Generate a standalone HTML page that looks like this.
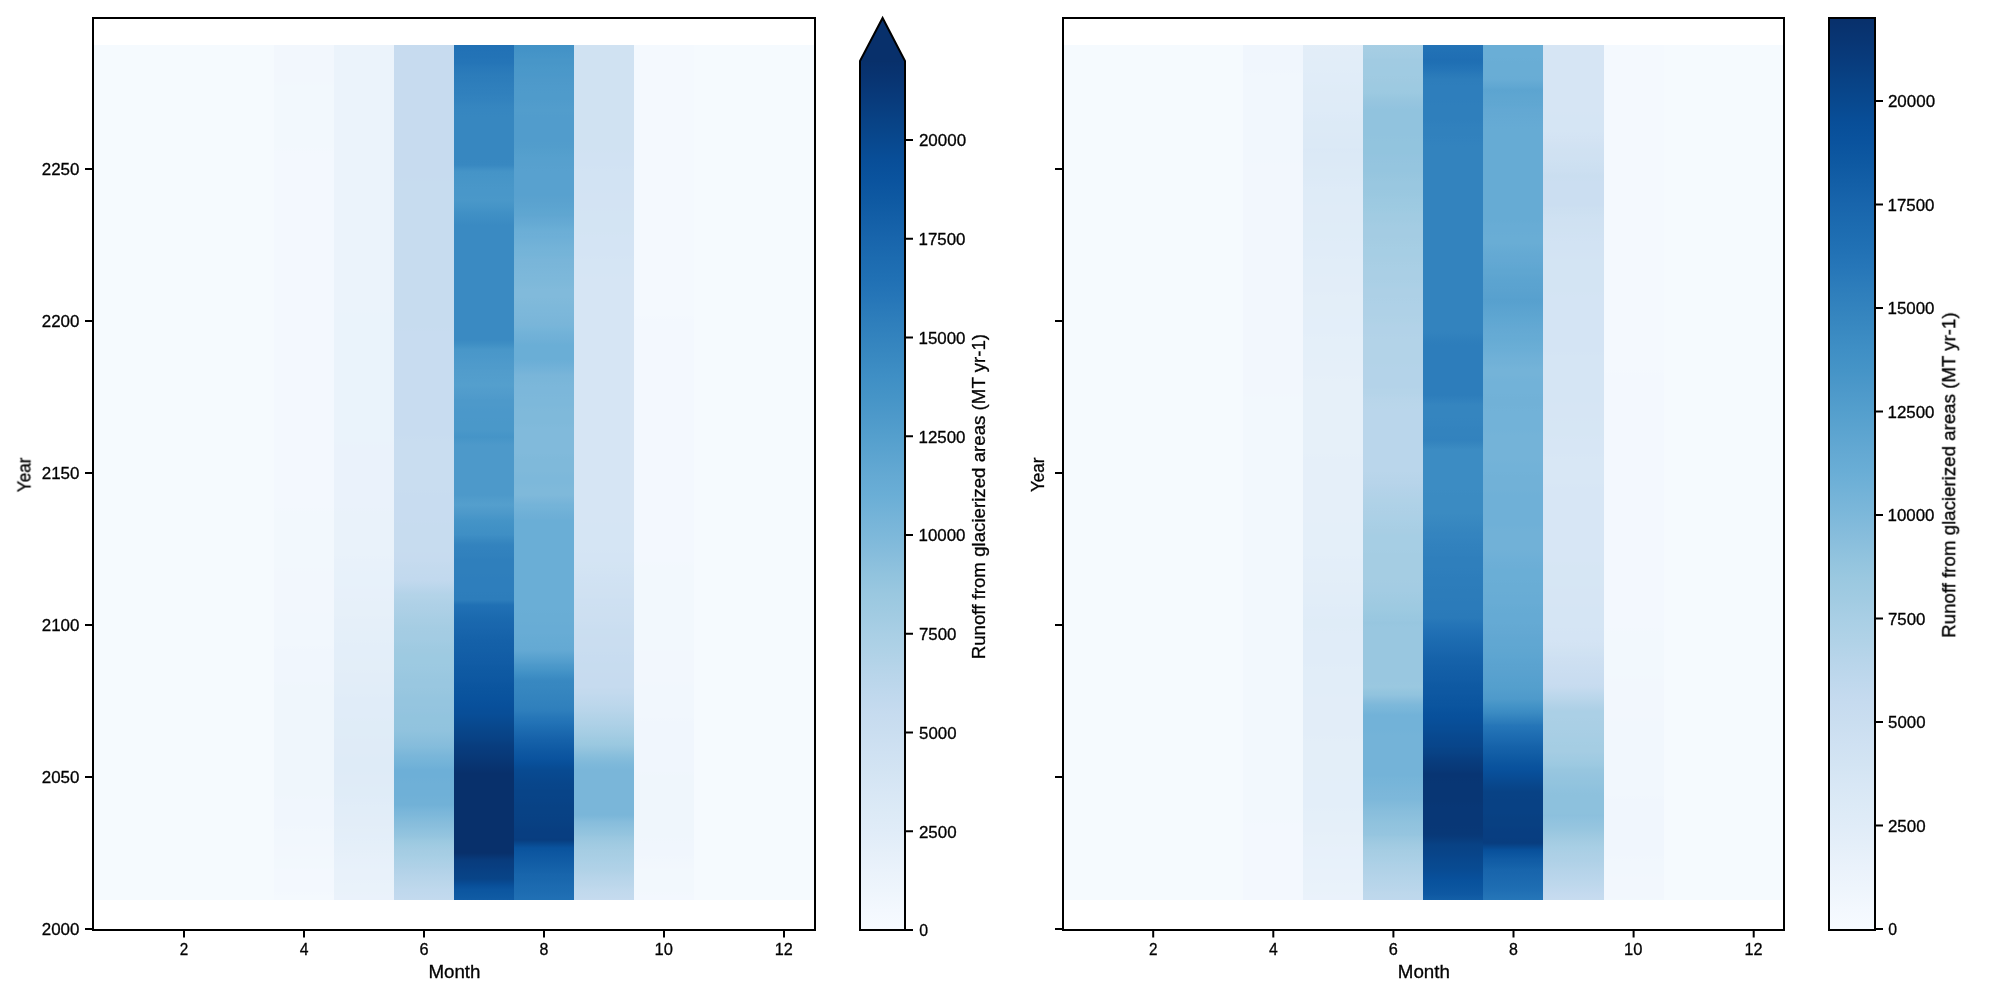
<!DOCTYPE html>
<html><head><meta charset="utf-8"><title>Runoff</title>
<style>html,body{margin:0;padding:0;background:#fff;overflow:hidden}svg{display:block}text{font-family:"Liberation Sans",sans-serif;fill:#000;stroke:#000;stroke-width:0.3px}.t{opacity:0.995}</style>
</head><body>
<svg width="2000" height="1000" viewBox="0 0 2000 1000" >
<defs><linearGradient id="L4" x1="0" y1="0" x2="0" y2="1"><stop offset="0.0000" stop-color="#f2f7fd"/><stop offset="0.0421" stop-color="#f2f7fd"/><stop offset="0.0491" stop-color="#f2f8fd"/><stop offset="0.1193" stop-color="#f2f8fd"/><stop offset="0.1263" stop-color="#f3f8fe"/><stop offset="0.5404" stop-color="#f3f8fe"/><stop offset="0.5474" stop-color="#f2f8fd"/><stop offset="0.6105" stop-color="#f2f8fd"/><stop offset="0.6175" stop-color="#f2f7fd"/><stop offset="0.6596" stop-color="#f2f7fd"/><stop offset="0.6667" stop-color="#f1f7fd"/><stop offset="0.7018" stop-color="#f1f7fd"/><stop offset="0.7088" stop-color="#f0f6fd"/><stop offset="0.7439" stop-color="#f0f6fd"/><stop offset="0.7509" stop-color="#eff6fc"/><stop offset="0.8772" stop-color="#eff6fc"/><stop offset="0.8842" stop-color="#f0f6fd"/><stop offset="0.9123" stop-color="#f0f6fd"/><stop offset="0.9193" stop-color="#f1f7fd"/><stop offset="0.9333" stop-color="#f1f7fd"/><stop offset="0.9404" stop-color="#f2f7fd"/><stop offset="0.9474" stop-color="#f2f7fd"/><stop offset="0.9544" stop-color="#f2f8fd"/><stop offset="0.9614" stop-color="#f2f8fd"/><stop offset="0.9649" stop-color="#f3f8fe"/><stop offset="0.9895" stop-color="#f3f8fe"/><stop offset="0.9965" stop-color="#f4f9fe"/><stop offset="1.0000" stop-color="#f4f9fe"/></linearGradient>
<linearGradient id="L5" x1="0" y1="0" x2="0" y2="1"><stop offset="0.0000" stop-color="#ebf3fb"/><stop offset="0.3088" stop-color="#ebf3fb"/><stop offset="0.3158" stop-color="#eaf3fb"/><stop offset="0.4632" stop-color="#eaf3fb"/><stop offset="0.4702" stop-color="#eaf2fb"/><stop offset="0.5404" stop-color="#eaf2fb"/><stop offset="0.5474" stop-color="#e9f2fa"/><stop offset="0.5965" stop-color="#e9f2fa"/><stop offset="0.6035" stop-color="#e8f1fa"/><stop offset="0.6105" stop-color="#e8f1fa"/><stop offset="0.6175" stop-color="#e7f1fa"/><stop offset="0.6316" stop-color="#e7f1fa"/><stop offset="0.6386" stop-color="#e7f0fa"/><stop offset="0.6456" stop-color="#e7f0fa"/><stop offset="0.6526" stop-color="#e6f0f9"/><stop offset="0.6667" stop-color="#e6f0f9"/><stop offset="0.6725" stop-color="#e5eff9"/><stop offset="0.6807" stop-color="#e5eff9"/><stop offset="0.6877" stop-color="#e4eff9"/><stop offset="0.6947" stop-color="#e4eff9"/><stop offset="0.7018" stop-color="#e3eef9"/><stop offset="0.7158" stop-color="#e3eef9"/><stop offset="0.7228" stop-color="#e3eef8"/><stop offset="0.7298" stop-color="#e3eef8"/><stop offset="0.7368" stop-color="#e2edf8"/><stop offset="0.7439" stop-color="#e2edf8"/><stop offset="0.7509" stop-color="#e1edf8"/><stop offset="0.7579" stop-color="#e1edf8"/><stop offset="0.7649" stop-color="#e0ecf8"/><stop offset="0.7860" stop-color="#e0ecf8"/><stop offset="0.7930" stop-color="#dfecf7"/><stop offset="0.8070" stop-color="#dfecf7"/><stop offset="0.8140" stop-color="#dfebf7"/><stop offset="0.8281" stop-color="#dfebf7"/><stop offset="0.8351" stop-color="#deebf7"/><stop offset="0.8491" stop-color="#deebf7"/><stop offset="0.8561" stop-color="#dfebf7"/><stop offset="0.8632" stop-color="#dfebf7"/><stop offset="0.8702" stop-color="#dfecf7"/><stop offset="0.8772" stop-color="#dfecf7"/><stop offset="0.8842" stop-color="#e0ecf8"/><stop offset="0.8912" stop-color="#e1edf8"/><stop offset="0.8982" stop-color="#e1edf8"/><stop offset="0.9053" stop-color="#e2edf8"/><stop offset="0.9123" stop-color="#e2edf8"/><stop offset="0.9181" stop-color="#e3eef8"/><stop offset="0.9193" stop-color="#e3eef8"/><stop offset="0.9263" stop-color="#e3eef9"/><stop offset="0.9333" stop-color="#e4eff9"/><stop offset="0.9404" stop-color="#e5eff9"/><stop offset="0.9474" stop-color="#e6f0f9"/><stop offset="0.9544" stop-color="#e7f0fa"/><stop offset="0.9614" stop-color="#e7f1fa"/><stop offset="0.9649" stop-color="#e8f1fa"/><stop offset="0.9754" stop-color="#e8f1fa"/><stop offset="0.9825" stop-color="#e9f2fa"/><stop offset="0.9895" stop-color="#e9f2fa"/><stop offset="0.9965" stop-color="#eaf2fb"/><stop offset="1.0000" stop-color="#eaf2fb"/></linearGradient>
<linearGradient id="L6" x1="0" y1="0" x2="0" y2="1"><stop offset="0.0000" stop-color="#c6dbef"/><stop offset="0.0070" stop-color="#c7dbef"/><stop offset="0.1544" stop-color="#c7dbef"/><stop offset="0.1614" stop-color="#c7dcef"/><stop offset="0.3298" stop-color="#c7dcef"/><stop offset="0.3368" stop-color="#c8dcf0"/><stop offset="0.4561" stop-color="#c8dcf0"/><stop offset="0.4632" stop-color="#c9ddf0"/><stop offset="0.5193" stop-color="#c9ddf0"/><stop offset="0.5263" stop-color="#c8dcf0"/><stop offset="0.5544" stop-color="#c8dcf0"/><stop offset="0.5614" stop-color="#c7dcef"/><stop offset="0.5906" stop-color="#c7dcef"/><stop offset="0.5965" stop-color="#c7dbef"/><stop offset="0.6035" stop-color="#c6dbef"/><stop offset="0.6105" stop-color="#c4daee"/><stop offset="0.6175" stop-color="#c3daee"/><stop offset="0.6246" stop-color="#c2d9ee"/><stop offset="0.6257" stop-color="#c2d9ee"/><stop offset="0.6316" stop-color="#bdd7ec"/><stop offset="0.6386" stop-color="#b7d4ea"/><stop offset="0.6433" stop-color="#b3d3e8"/><stop offset="0.6456" stop-color="#b3d3e8"/><stop offset="0.6526" stop-color="#afd1e7"/><stop offset="0.6596" stop-color="#add0e6"/><stop offset="0.6667" stop-color="#aacfe5"/><stop offset="0.6725" stop-color="#a8cee4"/><stop offset="0.6737" stop-color="#a8cee4"/><stop offset="0.6807" stop-color="#a5cde3"/><stop offset="0.6877" stop-color="#a4cce3"/><stop offset="0.6947" stop-color="#a3cce3"/><stop offset="0.7018" stop-color="#a0cbe2"/><stop offset="0.7076" stop-color="#9fcae1"/><stop offset="0.7088" stop-color="#9fcae1"/><stop offset="0.7158" stop-color="#9dcae1"/><stop offset="0.7228" stop-color="#9dcae1"/><stop offset="0.7298" stop-color="#9cc9e1"/><stop offset="0.7368" stop-color="#9ac8e0"/><stop offset="0.7439" stop-color="#99c7e0"/><stop offset="0.7509" stop-color="#99c7e0"/><stop offset="0.7579" stop-color="#97c6df"/><stop offset="0.7649" stop-color="#95c5df"/><stop offset="0.7719" stop-color="#95c5df"/><stop offset="0.7789" stop-color="#94c4df"/><stop offset="0.7860" stop-color="#92c4de"/><stop offset="0.7930" stop-color="#92c4de"/><stop offset="0.8000" stop-color="#91c3de"/><stop offset="0.8012" stop-color="#91c3de"/><stop offset="0.8070" stop-color="#8dc1dd"/><stop offset="0.8140" stop-color="#89bedc"/><stop offset="0.8175" stop-color="#87bddc"/><stop offset="0.8211" stop-color="#84bcdb"/><stop offset="0.8281" stop-color="#7db8da"/><stop offset="0.8316" stop-color="#7ab6d9"/><stop offset="0.8351" stop-color="#77b5d9"/><stop offset="0.8421" stop-color="#72b2d8"/><stop offset="0.8480" stop-color="#6dafd7"/><stop offset="0.8561" stop-color="#6dafd7"/><stop offset="0.8632" stop-color="#6fb0d7"/><stop offset="0.8772" stop-color="#6fb0d7"/><stop offset="0.8842" stop-color="#71b1d7"/><stop offset="0.8889" stop-color="#71b1d7"/><stop offset="0.8912" stop-color="#74b3d8"/><stop offset="0.8982" stop-color="#7cb7da"/><stop offset="0.9006" stop-color="#7db8da"/><stop offset="0.9053" stop-color="#82bbdb"/><stop offset="0.9123" stop-color="#89bedc"/><stop offset="0.9146" stop-color="#8abfdd"/><stop offset="0.9193" stop-color="#8fc2de"/><stop offset="0.9263" stop-color="#95c5df"/><stop offset="0.9298" stop-color="#9ac8e0"/><stop offset="0.9333" stop-color="#9dcae1"/><stop offset="0.9404" stop-color="#a3cce3"/><stop offset="0.9415" stop-color="#a4cce3"/><stop offset="0.9474" stop-color="#a6cee4"/><stop offset="0.9544" stop-color="#abd0e6"/><stop offset="0.9614" stop-color="#afd1e7"/><stop offset="0.9649" stop-color="#b2d2e8"/><stop offset="0.9684" stop-color="#b4d3e9"/><stop offset="0.9754" stop-color="#b8d5ea"/><stop offset="0.9825" stop-color="#bcd7eb"/><stop offset="0.9883" stop-color="#bfd8ed"/><stop offset="0.9895" stop-color="#bfd8ed"/><stop offset="0.9965" stop-color="#c2d9ee"/><stop offset="1.0000" stop-color="#c3daee"/></linearGradient>
<linearGradient id="L7" x1="0" y1="0" x2="0" y2="1"><stop offset="0.0000" stop-color="#2070b4"/><stop offset="0.0070" stop-color="#2272b6"/><stop offset="0.0140" stop-color="#2373b6"/><stop offset="0.0175" stop-color="#2474b7"/><stop offset="0.0211" stop-color="#2575b7"/><stop offset="0.0281" stop-color="#2979b9"/><stop offset="0.0351" stop-color="#2c7cba"/><stop offset="0.0421" stop-color="#2d7dbb"/><stop offset="0.0491" stop-color="#2f7fbc"/><stop offset="0.0561" stop-color="#3080bd"/><stop offset="0.0585" stop-color="#3181bd"/><stop offset="0.0632" stop-color="#3282be"/><stop offset="0.0702" stop-color="#3585bf"/><stop offset="0.0760" stop-color="#3686c0"/><stop offset="0.0772" stop-color="#3686c0"/><stop offset="0.0842" stop-color="#3787c0"/><stop offset="0.1333" stop-color="#3787c0"/><stop offset="0.1404" stop-color="#3888c1"/><stop offset="0.1474" stop-color="#4493c7"/><stop offset="0.1485" stop-color="#4594c7"/><stop offset="0.1544" stop-color="#4695c8"/><stop offset="0.1614" stop-color="#4896c8"/><stop offset="0.1684" stop-color="#4997c9"/><stop offset="0.1754" stop-color="#4997c9"/><stop offset="0.1813" stop-color="#4a98c9"/><stop offset="0.1825" stop-color="#4997c9"/><stop offset="0.1895" stop-color="#4594c7"/><stop offset="0.1953" stop-color="#4191c6"/><stop offset="0.1965" stop-color="#4090c5"/><stop offset="0.2035" stop-color="#3d8dc4"/><stop offset="0.2105" stop-color="#3a8ac2"/><stop offset="0.3450" stop-color="#3a8ac2"/><stop offset="0.3509" stop-color="#4090c5"/><stop offset="0.3567" stop-color="#4997c9"/><stop offset="0.3579" stop-color="#4997c9"/><stop offset="0.3649" stop-color="#4b98ca"/><stop offset="0.3719" stop-color="#4e9acb"/><stop offset="0.3789" stop-color="#4f9bcb"/><stop offset="0.3801" stop-color="#519ccc"/><stop offset="0.3860" stop-color="#529dcc"/><stop offset="0.3930" stop-color="#539ecd"/><stop offset="0.3977" stop-color="#549fcd"/><stop offset="0.4000" stop-color="#539ecd"/><stop offset="0.4070" stop-color="#519ccc"/><stop offset="0.4140" stop-color="#4e9acb"/><stop offset="0.4152" stop-color="#4d99ca"/><stop offset="0.4211" stop-color="#4d99ca"/><stop offset="0.4281" stop-color="#4b98ca"/><stop offset="0.4351" stop-color="#4b98ca"/><stop offset="0.4421" stop-color="#4a98c9"/><stop offset="0.4503" stop-color="#4a98c9"/><stop offset="0.4561" stop-color="#4695c8"/><stop offset="0.4585" stop-color="#4594c7"/><stop offset="0.4632" stop-color="#4997c9"/><stop offset="0.4678" stop-color="#4d99ca"/><stop offset="0.5263" stop-color="#4d99ca"/><stop offset="0.5333" stop-color="#529dcc"/><stop offset="0.5380" stop-color="#549fcd"/><stop offset="0.5404" stop-color="#529dcc"/><stop offset="0.5474" stop-color="#4d99ca"/><stop offset="0.5544" stop-color="#4695c8"/><stop offset="0.5556" stop-color="#4594c7"/><stop offset="0.5614" stop-color="#4292c6"/><stop offset="0.5684" stop-color="#4090c5"/><stop offset="0.5731" stop-color="#3f8fc5"/><stop offset="0.5754" stop-color="#3c8cc3"/><stop offset="0.5825" stop-color="#3585bf"/><stop offset="0.5848" stop-color="#3383be"/><stop offset="0.5895" stop-color="#3282be"/><stop offset="0.5965" stop-color="#3181bd"/><stop offset="0.6023" stop-color="#2f7fbc"/><stop offset="0.6175" stop-color="#2f7fbc"/><stop offset="0.6246" stop-color="#2e7ebc"/><stop offset="0.6386" stop-color="#2e7ebc"/><stop offset="0.6456" stop-color="#2d7dbb"/><stop offset="0.6491" stop-color="#2d7dbb"/><stop offset="0.6526" stop-color="#2575b7"/><stop offset="0.6550" stop-color="#2070b4"/><stop offset="0.6596" stop-color="#1f6eb3"/><stop offset="0.6667" stop-color="#1c6bb0"/><stop offset="0.6737" stop-color="#1a68ae"/><stop offset="0.6807" stop-color="#1966ad"/><stop offset="0.6877" stop-color="#1764ab"/><stop offset="0.6947" stop-color="#1562a9"/><stop offset="0.6959" stop-color="#1561a9"/><stop offset="0.7018" stop-color="#1460a8"/><stop offset="0.7088" stop-color="#135fa7"/><stop offset="0.7158" stop-color="#125da6"/><stop offset="0.7228" stop-color="#115ca5"/><stop offset="0.7298" stop-color="#0f5aa3"/><stop offset="0.7357" stop-color="#0e59a2"/><stop offset="0.7368" stop-color="#0e59a2"/><stop offset="0.7439" stop-color="#0d57a1"/><stop offset="0.7509" stop-color="#0b559f"/><stop offset="0.7579" stop-color="#0a549e"/><stop offset="0.7649" stop-color="#09529d"/><stop offset="0.7719" stop-color="#08509b"/><stop offset="0.7789" stop-color="#084e98"/><stop offset="0.7813" stop-color="#084e98"/><stop offset="0.7860" stop-color="#084c95"/><stop offset="0.7930" stop-color="#084990"/><stop offset="0.8000" stop-color="#08468b"/><stop offset="0.8070" stop-color="#084387"/><stop offset="0.8129" stop-color="#084184"/><stop offset="0.8140" stop-color="#084082"/><stop offset="0.8211" stop-color="#083c7d"/><stop offset="0.8281" stop-color="#083a7a"/><stop offset="0.8351" stop-color="#083776"/><stop offset="0.8421" stop-color="#083471"/><stop offset="0.8491" stop-color="#08316d"/><stop offset="0.8526" stop-color="#08306b"/><stop offset="0.9450" stop-color="#08306b"/><stop offset="0.9474" stop-color="#083370"/><stop offset="0.9532" stop-color="#083b7c"/><stop offset="0.9544" stop-color="#083c7d"/><stop offset="0.9614" stop-color="#083e81"/><stop offset="0.9684" stop-color="#084285"/><stop offset="0.9754" stop-color="#084488"/><stop offset="0.9825" stop-color="#084e98"/><stop offset="0.9883" stop-color="#0c56a0"/><stop offset="0.9895" stop-color="#0c56a0"/><stop offset="0.9965" stop-color="#0f5aa3"/><stop offset="1.0000" stop-color="#115ca5"/></linearGradient>
<linearGradient id="L8" x1="0" y1="0" x2="0" y2="1"><stop offset="0.0000" stop-color="#4292c6"/><stop offset="0.0070" stop-color="#4493c7"/><stop offset="0.0140" stop-color="#4695c8"/><stop offset="0.0175" stop-color="#4896c8"/><stop offset="0.0211" stop-color="#4896c8"/><stop offset="0.0281" stop-color="#4a98c9"/><stop offset="0.0351" stop-color="#4b98ca"/><stop offset="0.0409" stop-color="#4d99ca"/><stop offset="0.0421" stop-color="#4d99ca"/><stop offset="0.0491" stop-color="#4e9acb"/><stop offset="0.0561" stop-color="#4f9bcb"/><stop offset="0.0632" stop-color="#4f9bcb"/><stop offset="0.0702" stop-color="#519ccc"/><stop offset="0.0760" stop-color="#529dcc"/><stop offset="0.0772" stop-color="#529dcc"/><stop offset="0.0842" stop-color="#519ccc"/><stop offset="0.1123" stop-color="#519ccc"/><stop offset="0.1193" stop-color="#529dcc"/><stop offset="0.1263" stop-color="#549fcd"/><stop offset="0.1333" stop-color="#56a0ce"/><stop offset="0.1404" stop-color="#57a0ce"/><stop offset="0.1474" stop-color="#58a1cf"/><stop offset="0.1754" stop-color="#58a1cf"/><stop offset="0.1813" stop-color="#5aa2cf"/><stop offset="0.1825" stop-color="#5aa2cf"/><stop offset="0.1895" stop-color="#5ca4d0"/><stop offset="0.1965" stop-color="#5fa6d1"/><stop offset="0.1988" stop-color="#5fa6d1"/><stop offset="0.2035" stop-color="#63a8d3"/><stop offset="0.2105" stop-color="#66abd4"/><stop offset="0.2164" stop-color="#6aaed6"/><stop offset="0.2175" stop-color="#6caed6"/><stop offset="0.2246" stop-color="#6dafd7"/><stop offset="0.2316" stop-color="#71b1d7"/><stop offset="0.2386" stop-color="#74b3d8"/><stop offset="0.2456" stop-color="#75b4d8"/><stop offset="0.2515" stop-color="#79b5d9"/><stop offset="0.2526" stop-color="#79b5d9"/><stop offset="0.2596" stop-color="#7ab6d9"/><stop offset="0.2667" stop-color="#7cb7da"/><stop offset="0.2737" stop-color="#7db8da"/><stop offset="0.2807" stop-color="#7fb9da"/><stop offset="0.2865" stop-color="#81badb"/><stop offset="0.2947" stop-color="#81badb"/><stop offset="0.3018" stop-color="#7fb9da"/><stop offset="0.3088" stop-color="#7db8da"/><stop offset="0.3099" stop-color="#7db8da"/><stop offset="0.3158" stop-color="#7cb7da"/><stop offset="0.3228" stop-color="#7ab6d9"/><stop offset="0.3275" stop-color="#79b5d9"/><stop offset="0.3298" stop-color="#77b5d9"/><stop offset="0.3368" stop-color="#72b2d8"/><stop offset="0.3439" stop-color="#6fb0d7"/><stop offset="0.3509" stop-color="#6aaed6"/><stop offset="0.3684" stop-color="#6aaed6"/><stop offset="0.3719" stop-color="#6dafd7"/><stop offset="0.3789" stop-color="#72b2d8"/><stop offset="0.3860" stop-color="#79b5d9"/><stop offset="0.3930" stop-color="#7ab6d9"/><stop offset="0.4000" stop-color="#7cb7da"/><stop offset="0.4070" stop-color="#7cb7da"/><stop offset="0.4140" stop-color="#7db8da"/><stop offset="0.4211" stop-color="#7db8da"/><stop offset="0.4281" stop-color="#7fb9da"/><stop offset="0.4421" stop-color="#7fb9da"/><stop offset="0.4491" stop-color="#81badb"/><stop offset="0.4772" stop-color="#81badb"/><stop offset="0.4842" stop-color="#7fb9da"/><stop offset="0.4982" stop-color="#7fb9da"/><stop offset="0.5053" stop-color="#7db8da"/><stop offset="0.5123" stop-color="#7db8da"/><stop offset="0.5193" stop-color="#7fb9da"/><stop offset="0.5263" stop-color="#7fb9da"/><stop offset="0.5333" stop-color="#79b5d9"/><stop offset="0.5380" stop-color="#74b3d8"/><stop offset="0.5404" stop-color="#74b3d8"/><stop offset="0.5474" stop-color="#6fb0d7"/><stop offset="0.5544" stop-color="#6caed6"/><stop offset="0.5556" stop-color="#6aaed6"/><stop offset="0.6596" stop-color="#6aaed6"/><stop offset="0.6667" stop-color="#69add5"/><stop offset="0.6737" stop-color="#69add5"/><stop offset="0.6807" stop-color="#68acd5"/><stop offset="0.6877" stop-color="#68acd5"/><stop offset="0.6947" stop-color="#66abd4"/><stop offset="0.6959" stop-color="#66abd4"/><stop offset="0.7018" stop-color="#65aad4"/><stop offset="0.7076" stop-color="#64a9d3"/><stop offset="0.7088" stop-color="#63a8d3"/><stop offset="0.7158" stop-color="#5aa2cf"/><stop offset="0.7228" stop-color="#519ccc"/><stop offset="0.7251" stop-color="#4d99ca"/><stop offset="0.7298" stop-color="#4896c8"/><stop offset="0.7368" stop-color="#3f8fc5"/><stop offset="0.7427" stop-color="#3989c1"/><stop offset="0.7439" stop-color="#3888c1"/><stop offset="0.7509" stop-color="#3787c0"/><stop offset="0.7579" stop-color="#3585bf"/><stop offset="0.7649" stop-color="#3383be"/><stop offset="0.7719" stop-color="#3181bd"/><stop offset="0.7766" stop-color="#2f7fbc"/><stop offset="0.7789" stop-color="#2e7ebc"/><stop offset="0.7860" stop-color="#2777b8"/><stop offset="0.7930" stop-color="#2272b6"/><stop offset="0.7953" stop-color="#2070b4"/><stop offset="0.8000" stop-color="#1d6cb1"/><stop offset="0.8070" stop-color="#1966ad"/><stop offset="0.8129" stop-color="#1561a9"/><stop offset="0.8140" stop-color="#1561a9"/><stop offset="0.8211" stop-color="#115ca5"/><stop offset="0.8281" stop-color="#0d57a1"/><stop offset="0.8351" stop-color="#0a539e"/><stop offset="0.8421" stop-color="#084e98"/><stop offset="0.8480" stop-color="#084a91"/><stop offset="0.8491" stop-color="#084a91"/><stop offset="0.8561" stop-color="#08488e"/><stop offset="0.8632" stop-color="#08468b"/><stop offset="0.8702" stop-color="#08458a"/><stop offset="0.8713" stop-color="#084488"/><stop offset="0.8772" stop-color="#084488"/><stop offset="0.8842" stop-color="#084387"/><stop offset="0.8912" stop-color="#084285"/><stop offset="0.8982" stop-color="#084285"/><stop offset="0.9053" stop-color="#084184"/><stop offset="0.9123" stop-color="#084082"/><stop offset="0.9193" stop-color="#083e81"/><stop offset="0.9263" stop-color="#083e81"/><stop offset="0.9298" stop-color="#083d7f"/><stop offset="0.9333" stop-color="#08468b"/><stop offset="0.9392" stop-color="#0a539e"/><stop offset="0.9404" stop-color="#0a549e"/><stop offset="0.9474" stop-color="#0e58a2"/><stop offset="0.9544" stop-color="#115ca5"/><stop offset="0.9614" stop-color="#1460a8"/><stop offset="0.9684" stop-color="#1764ab"/><stop offset="0.9696" stop-color="#1865ac"/><stop offset="0.9754" stop-color="#1967ad"/><stop offset="0.9825" stop-color="#1c6ab0"/><stop offset="0.9895" stop-color="#1d6cb1"/><stop offset="0.9965" stop-color="#206fb4"/><stop offset="1.0000" stop-color="#2070b4"/></linearGradient>
<linearGradient id="L9" x1="0" y1="0" x2="0" y2="1"><stop offset="0.0000" stop-color="#d0e2f2"/><stop offset="0.1228" stop-color="#d0e2f2"/><stop offset="0.1263" stop-color="#d1e2f3"/><stop offset="0.1404" stop-color="#d1e2f3"/><stop offset="0.1474" stop-color="#d2e3f3"/><stop offset="0.1684" stop-color="#d2e3f3"/><stop offset="0.1754" stop-color="#d3e3f3"/><stop offset="0.1895" stop-color="#d3e3f3"/><stop offset="0.1965" stop-color="#d3e4f3"/><stop offset="0.2175" stop-color="#d3e4f3"/><stop offset="0.2246" stop-color="#d4e4f4"/><stop offset="0.2456" stop-color="#d4e4f4"/><stop offset="0.2526" stop-color="#d5e5f4"/><stop offset="0.2667" stop-color="#d5e5f4"/><stop offset="0.2737" stop-color="#d6e5f4"/><stop offset="0.5544" stop-color="#d6e5f4"/><stop offset="0.5614" stop-color="#d5e5f4"/><stop offset="0.5895" stop-color="#d5e5f4"/><stop offset="0.5965" stop-color="#d4e4f4"/><stop offset="0.6035" stop-color="#d4e4f4"/><stop offset="0.6105" stop-color="#d3e4f3"/><stop offset="0.6175" stop-color="#d2e3f3"/><stop offset="0.6246" stop-color="#d1e2f3"/><stop offset="0.6316" stop-color="#d0e2f2"/><stop offset="0.6386" stop-color="#d0e1f2"/><stop offset="0.6456" stop-color="#cfe1f2"/><stop offset="0.6491" stop-color="#cee0f2"/><stop offset="0.6526" stop-color="#cee0f2"/><stop offset="0.6596" stop-color="#cde0f1"/><stop offset="0.6667" stop-color="#cddff1"/><stop offset="0.6737" stop-color="#ccdff1"/><stop offset="0.6807" stop-color="#cbdef1"/><stop offset="0.6842" stop-color="#cadef0"/><stop offset="0.6877" stop-color="#cadef0"/><stop offset="0.6947" stop-color="#caddf0"/><stop offset="0.7018" stop-color="#caddf0"/><stop offset="0.7088" stop-color="#c9ddf0"/><stop offset="0.7158" stop-color="#c8dcf0"/><stop offset="0.7193" stop-color="#c8dcf0"/><stop offset="0.7228" stop-color="#c7dcef"/><stop offset="0.7298" stop-color="#c7dcef"/><stop offset="0.7368" stop-color="#c7dbef"/><stop offset="0.7439" stop-color="#c6dbef"/><stop offset="0.7509" stop-color="#c6dbef"/><stop offset="0.7544" stop-color="#c4daee"/><stop offset="0.7579" stop-color="#c3daee"/><stop offset="0.7649" stop-color="#bfd8ed"/><stop offset="0.7719" stop-color="#bcd7eb"/><stop offset="0.7743" stop-color="#bad6eb"/><stop offset="0.7789" stop-color="#b8d5ea"/><stop offset="0.7860" stop-color="#b3d3e8"/><stop offset="0.7930" stop-color="#aed1e7"/><stop offset="0.7953" stop-color="#add0e6"/><stop offset="0.8000" stop-color="#a9cfe5"/><stop offset="0.8070" stop-color="#a4cce3"/><stop offset="0.8140" stop-color="#9dcae1"/><stop offset="0.8187" stop-color="#9ac8e0"/><stop offset="0.8211" stop-color="#97c6df"/><stop offset="0.8281" stop-color="#8dc1dd"/><stop offset="0.8351" stop-color="#84bcdb"/><stop offset="0.8421" stop-color="#7db8da"/><stop offset="0.8480" stop-color="#7ab6d9"/><stop offset="0.9006" stop-color="#7ab6d9"/><stop offset="0.9053" stop-color="#81badb"/><stop offset="0.9088" stop-color="#87bddc"/><stop offset="0.9123" stop-color="#8abfdd"/><stop offset="0.9193" stop-color="#91c3de"/><stop offset="0.9240" stop-color="#95c5df"/><stop offset="0.9263" stop-color="#99c7e0"/><stop offset="0.9333" stop-color="#9fcae1"/><stop offset="0.9404" stop-color="#a4cce3"/><stop offset="0.9415" stop-color="#a5cde3"/><stop offset="0.9474" stop-color="#a8cee4"/><stop offset="0.9544" stop-color="#abd0e6"/><stop offset="0.9614" stop-color="#afd1e7"/><stop offset="0.9649" stop-color="#b0d2e7"/><stop offset="0.9684" stop-color="#b3d3e8"/><stop offset="0.9754" stop-color="#b8d5ea"/><stop offset="0.9825" stop-color="#bcd7eb"/><stop offset="0.9895" stop-color="#c1d9ed"/><stop offset="0.9965" stop-color="#c4daee"/><stop offset="1.0000" stop-color="#c6dbef"/></linearGradient>
<linearGradient id="L10" x1="0" y1="0" x2="0" y2="1"><stop offset="0.0000" stop-color="#f4f9fe"/><stop offset="0.3158" stop-color="#f4f9fe"/><stop offset="0.3228" stop-color="#f3f8fe"/><stop offset="0.6035" stop-color="#f3f8fe"/><stop offset="0.6105" stop-color="#f2f8fd"/><stop offset="0.7076" stop-color="#f2f8fd"/><stop offset="0.7088" stop-color="#f2f7fd"/><stop offset="0.7439" stop-color="#f2f7fd"/><stop offset="0.7509" stop-color="#f1f7fd"/><stop offset="0.7860" stop-color="#f1f7fd"/><stop offset="0.7930" stop-color="#f0f6fd"/><stop offset="0.8491" stop-color="#f0f6fd"/><stop offset="0.8561" stop-color="#eff6fc"/><stop offset="0.9263" stop-color="#eff6fc"/><stop offset="0.9333" stop-color="#f0f6fd"/><stop offset="0.9474" stop-color="#f0f6fd"/><stop offset="0.9544" stop-color="#f1f7fd"/><stop offset="0.9614" stop-color="#f2f7fd"/><stop offset="0.9649" stop-color="#f2f8fd"/><stop offset="0.9895" stop-color="#f2f8fd"/><stop offset="0.9965" stop-color="#f3f8fe"/><stop offset="1.0000" stop-color="#f3f8fe"/></linearGradient>
<linearGradient id="R4" x1="0" y1="0" x2="0" y2="1"><stop offset="0.0000" stop-color="#f0f6fd"/><stop offset="0.0281" stop-color="#f0f6fd"/><stop offset="0.0351" stop-color="#f1f7fd"/><stop offset="0.1333" stop-color="#f1f7fd"/><stop offset="0.1404" stop-color="#f2f7fd"/><stop offset="0.4070" stop-color="#f2f7fd"/><stop offset="0.4140" stop-color="#f2f8fd"/><stop offset="0.9053" stop-color="#f2f8fd"/><stop offset="0.9123" stop-color="#f3f8fe"/><stop offset="1.0000" stop-color="#f3f8fe"/></linearGradient>
<linearGradient id="R5" x1="0" y1="0" x2="0" y2="1"><stop offset="0.0000" stop-color="#e3eef8"/><stop offset="0.0070" stop-color="#e2edf8"/><stop offset="0.0140" stop-color="#e2edf8"/><stop offset="0.0211" stop-color="#e1edf8"/><stop offset="0.0281" stop-color="#e1edf8"/><stop offset="0.0351" stop-color="#e0ecf8"/><stop offset="0.0421" stop-color="#e0ecf8"/><stop offset="0.0491" stop-color="#dfecf7"/><stop offset="0.0561" stop-color="#dfebf7"/><stop offset="0.0632" stop-color="#dfebf7"/><stop offset="0.0702" stop-color="#deebf7"/><stop offset="0.0772" stop-color="#deebf7"/><stop offset="0.0842" stop-color="#ddeaf7"/><stop offset="0.0912" stop-color="#dceaf6"/><stop offset="0.0982" stop-color="#dceaf6"/><stop offset="0.1053" stop-color="#dce9f6"/><stop offset="0.1123" stop-color="#dbe9f6"/><stop offset="0.1193" stop-color="#dbe9f6"/><stop offset="0.1228" stop-color="#dae8f6"/><stop offset="0.1263" stop-color="#dbe9f6"/><stop offset="0.1333" stop-color="#dbe9f6"/><stop offset="0.1404" stop-color="#dce9f6"/><stop offset="0.1474" stop-color="#dceaf6"/><stop offset="0.1544" stop-color="#dceaf6"/><stop offset="0.1614" stop-color="#ddeaf7"/><stop offset="0.1684" stop-color="#deebf7"/><stop offset="0.1825" stop-color="#deebf7"/><stop offset="0.1895" stop-color="#dfebf7"/><stop offset="0.2035" stop-color="#dfebf7"/><stop offset="0.2105" stop-color="#dfecf7"/><stop offset="0.2246" stop-color="#dfecf7"/><stop offset="0.2316" stop-color="#e0ecf8"/><stop offset="0.2456" stop-color="#e0ecf8"/><stop offset="0.2526" stop-color="#e1edf8"/><stop offset="0.2667" stop-color="#e1edf8"/><stop offset="0.2737" stop-color="#e2edf8"/><stop offset="0.2877" stop-color="#e2edf8"/><stop offset="0.2947" stop-color="#e3eef8"/><stop offset="0.3158" stop-color="#e3eef8"/><stop offset="0.3228" stop-color="#e3eef9"/><stop offset="0.3368" stop-color="#e3eef9"/><stop offset="0.3439" stop-color="#e4eff9"/><stop offset="0.3649" stop-color="#e4eff9"/><stop offset="0.3719" stop-color="#e5eff9"/><stop offset="0.3860" stop-color="#e5eff9"/><stop offset="0.3930" stop-color="#e6f0f9"/><stop offset="0.4772" stop-color="#e6f0f9"/><stop offset="0.4842" stop-color="#e5eff9"/><stop offset="0.5544" stop-color="#e5eff9"/><stop offset="0.5614" stop-color="#e4eff9"/><stop offset="0.5965" stop-color="#e4eff9"/><stop offset="0.6035" stop-color="#e3eef9"/><stop offset="0.6105" stop-color="#e3eef9"/><stop offset="0.6175" stop-color="#e3eef8"/><stop offset="0.6246" stop-color="#e3eef8"/><stop offset="0.6316" stop-color="#e2edf8"/><stop offset="0.6386" stop-color="#e2edf8"/><stop offset="0.6456" stop-color="#e1edf8"/><stop offset="0.6526" stop-color="#e1edf8"/><stop offset="0.6596" stop-color="#e0ecf8"/><stop offset="0.6667" stop-color="#e0ecf8"/><stop offset="0.6725" stop-color="#dfecf7"/><stop offset="0.6807" stop-color="#dfecf7"/><stop offset="0.6877" stop-color="#e0ecf8"/><stop offset="0.7228" stop-color="#e0ecf8"/><stop offset="0.7298" stop-color="#e1edf8"/><stop offset="0.7579" stop-color="#e1edf8"/><stop offset="0.7649" stop-color="#e2edf8"/><stop offset="0.8070" stop-color="#e2edf8"/><stop offset="0.8140" stop-color="#e3eef8"/><stop offset="0.8561" stop-color="#e3eef8"/><stop offset="0.8632" stop-color="#e3eef9"/><stop offset="0.8912" stop-color="#e3eef9"/><stop offset="0.8982" stop-color="#e4eff9"/><stop offset="0.9053" stop-color="#e4eff9"/><stop offset="0.9123" stop-color="#e5eff9"/><stop offset="0.9193" stop-color="#e5eff9"/><stop offset="0.9263" stop-color="#e6f0f9"/><stop offset="0.9333" stop-color="#e6f0f9"/><stop offset="0.9404" stop-color="#e7f0fa"/><stop offset="0.9474" stop-color="#e7f0fa"/><stop offset="0.9544" stop-color="#e7f1fa"/><stop offset="0.9614" stop-color="#e7f1fa"/><stop offset="0.9649" stop-color="#e8f1fa"/><stop offset="0.9754" stop-color="#e8f1fa"/><stop offset="0.9825" stop-color="#e9f2fa"/><stop offset="0.9895" stop-color="#e9f2fa"/><stop offset="0.9965" stop-color="#eaf2fb"/><stop offset="1.0000" stop-color="#eaf2fb"/></linearGradient>
<linearGradient id="R6" x1="0" y1="0" x2="0" y2="1"><stop offset="0.0000" stop-color="#a6cee4"/><stop offset="0.0070" stop-color="#a5cde3"/><stop offset="0.0140" stop-color="#a3cce3"/><stop offset="0.0175" stop-color="#a1cbe2"/><stop offset="0.0211" stop-color="#a1cbe2"/><stop offset="0.0281" stop-color="#a0cbe2"/><stop offset="0.0351" stop-color="#a0cbe2"/><stop offset="0.0421" stop-color="#9fcae1"/><stop offset="0.0491" stop-color="#9dcae1"/><stop offset="0.0526" stop-color="#9dcae1"/><stop offset="0.0561" stop-color="#9cc9e1"/><stop offset="0.0632" stop-color="#97c6df"/><stop offset="0.0702" stop-color="#94c4df"/><stop offset="0.0760" stop-color="#91c3de"/><stop offset="0.1053" stop-color="#91c3de"/><stop offset="0.1123" stop-color="#92c4de"/><stop offset="0.1263" stop-color="#92c4de"/><stop offset="0.1333" stop-color="#94c4df"/><stop offset="0.1404" stop-color="#95c5df"/><stop offset="0.1474" stop-color="#95c5df"/><stop offset="0.1544" stop-color="#97c6df"/><stop offset="0.1614" stop-color="#99c7e0"/><stop offset="0.1684" stop-color="#99c7e0"/><stop offset="0.1754" stop-color="#9ac8e0"/><stop offset="0.1813" stop-color="#9cc9e1"/><stop offset="0.1825" stop-color="#9cc9e1"/><stop offset="0.1895" stop-color="#9dcae1"/><stop offset="0.1965" stop-color="#a0cbe2"/><stop offset="0.2035" stop-color="#a1cbe2"/><stop offset="0.2047" stop-color="#a1cbe2"/><stop offset="0.2105" stop-color="#a3cce3"/><stop offset="0.2175" stop-color="#a4cce3"/><stop offset="0.2246" stop-color="#a4cce3"/><stop offset="0.2316" stop-color="#a5cde3"/><stop offset="0.2386" stop-color="#a6cee4"/><stop offset="0.2456" stop-color="#a6cee4"/><stop offset="0.2526" stop-color="#a8cee4"/><stop offset="0.2596" stop-color="#a9cfe5"/><stop offset="0.2667" stop-color="#aacfe5"/><stop offset="0.2737" stop-color="#aacfe5"/><stop offset="0.2807" stop-color="#abd0e6"/><stop offset="0.2865" stop-color="#add0e6"/><stop offset="0.2947" stop-color="#add0e6"/><stop offset="0.3018" stop-color="#aed1e7"/><stop offset="0.3088" stop-color="#afd1e7"/><stop offset="0.3158" stop-color="#afd1e7"/><stop offset="0.3228" stop-color="#b0d2e7"/><stop offset="0.3298" stop-color="#b2d2e8"/><stop offset="0.3368" stop-color="#b2d2e8"/><stop offset="0.3439" stop-color="#b3d3e8"/><stop offset="0.3719" stop-color="#b3d3e8"/><stop offset="0.3789" stop-color="#b4d3e9"/><stop offset="0.4000" stop-color="#b4d3e9"/><stop offset="0.4035" stop-color="#b5d4e9"/><stop offset="0.4070" stop-color="#b5d4e9"/><stop offset="0.4140" stop-color="#b8d5ea"/><stop offset="0.4211" stop-color="#b9d6ea"/><stop offset="0.4269" stop-color="#bad6eb"/><stop offset="0.4982" stop-color="#bad6eb"/><stop offset="0.5053" stop-color="#b8d5ea"/><stop offset="0.5123" stop-color="#b7d4ea"/><stop offset="0.5193" stop-color="#b4d3e9"/><stop offset="0.5263" stop-color="#b2d2e8"/><stop offset="0.5322" stop-color="#b0d2e7"/><stop offset="0.5333" stop-color="#b0d2e7"/><stop offset="0.5404" stop-color="#aed1e7"/><stop offset="0.5474" stop-color="#add0e6"/><stop offset="0.5544" stop-color="#abd0e6"/><stop offset="0.5614" stop-color="#a9cfe5"/><stop offset="0.5684" stop-color="#a8cee4"/><stop offset="0.5731" stop-color="#a6cee4"/><stop offset="0.5895" stop-color="#a6cee4"/><stop offset="0.5965" stop-color="#a5cde3"/><stop offset="0.6246" stop-color="#a5cde3"/><stop offset="0.6316" stop-color="#a4cce3"/><stop offset="0.6386" stop-color="#a3cce3"/><stop offset="0.6456" stop-color="#a1cbe2"/><stop offset="0.6491" stop-color="#a0cbe2"/><stop offset="0.6526" stop-color="#9fcae1"/><stop offset="0.6596" stop-color="#9dcae1"/><stop offset="0.6667" stop-color="#9ac8e0"/><stop offset="0.6737" stop-color="#99c7e0"/><stop offset="0.6749" stop-color="#97c6df"/><stop offset="0.6807" stop-color="#99c7e0"/><stop offset="0.7439" stop-color="#99c7e0"/><stop offset="0.7509" stop-color="#9ac8e0"/><stop offset="0.7579" stop-color="#92c4de"/><stop offset="0.7602" stop-color="#91c3de"/><stop offset="0.7649" stop-color="#89bedc"/><stop offset="0.7719" stop-color="#7db8da"/><stop offset="0.7789" stop-color="#77b5d9"/><stop offset="0.7836" stop-color="#72b2d8"/><stop offset="0.8000" stop-color="#72b2d8"/><stop offset="0.8070" stop-color="#74b3d8"/><stop offset="0.8538" stop-color="#74b3d8"/><stop offset="0.8561" stop-color="#75b4d8"/><stop offset="0.8632" stop-color="#77b5d9"/><stop offset="0.8702" stop-color="#7ab6d9"/><stop offset="0.8772" stop-color="#7cb7da"/><stop offset="0.8830" stop-color="#7db8da"/><stop offset="0.8842" stop-color="#7fb9da"/><stop offset="0.8912" stop-color="#84bcdb"/><stop offset="0.8971" stop-color="#89bedc"/><stop offset="0.8982" stop-color="#89bedc"/><stop offset="0.9053" stop-color="#8dc1dd"/><stop offset="0.9123" stop-color="#91c3de"/><stop offset="0.9193" stop-color="#94c4df"/><stop offset="0.9240" stop-color="#95c5df"/><stop offset="0.9263" stop-color="#99c7e0"/><stop offset="0.9333" stop-color="#9fcae1"/><stop offset="0.9404" stop-color="#a4cce3"/><stop offset="0.9415" stop-color="#a5cde3"/><stop offset="0.9474" stop-color="#a8cee4"/><stop offset="0.9544" stop-color="#abd0e6"/><stop offset="0.9614" stop-color="#afd1e7"/><stop offset="0.9649" stop-color="#b0d2e7"/><stop offset="0.9684" stop-color="#b2d2e8"/><stop offset="0.9754" stop-color="#b5d4e9"/><stop offset="0.9825" stop-color="#b8d5ea"/><stop offset="0.9883" stop-color="#bad6eb"/><stop offset="0.9895" stop-color="#bcd7eb"/><stop offset="0.9965" stop-color="#bed8ec"/><stop offset="1.0000" stop-color="#bfd8ed"/></linearGradient>
<linearGradient id="R7" x1="0" y1="0" x2="0" y2="1"><stop offset="0.0000" stop-color="#2373b6"/><stop offset="0.0070" stop-color="#2171b5"/><stop offset="0.0140" stop-color="#206fb4"/><stop offset="0.0175" stop-color="#1f6eb3"/><stop offset="0.0211" stop-color="#2070b4"/><stop offset="0.0281" stop-color="#2474b7"/><stop offset="0.0351" stop-color="#2a7ab9"/><stop offset="0.0409" stop-color="#2d7dbb"/><stop offset="0.0421" stop-color="#2d7dbb"/><stop offset="0.0491" stop-color="#2e7ebc"/><stop offset="0.0632" stop-color="#2e7ebc"/><stop offset="0.0702" stop-color="#2f7fbc"/><stop offset="0.0877" stop-color="#2f7fbc"/><stop offset="0.0912" stop-color="#3080bd"/><stop offset="0.0982" stop-color="#3181bd"/><stop offset="0.1053" stop-color="#3181bd"/><stop offset="0.1123" stop-color="#3282be"/><stop offset="0.1193" stop-color="#3383be"/><stop offset="0.3333" stop-color="#3383be"/><stop offset="0.3368" stop-color="#3282be"/><stop offset="0.3439" stop-color="#2f7fbc"/><stop offset="0.3509" stop-color="#2d7dbb"/><stop offset="0.4094" stop-color="#2d7dbb"/><stop offset="0.4140" stop-color="#3080bd"/><stop offset="0.4211" stop-color="#3585bf"/><stop offset="0.4351" stop-color="#3585bf"/><stop offset="0.4421" stop-color="#3484bf"/><stop offset="0.4444" stop-color="#3484bf"/><stop offset="0.4491" stop-color="#3383be"/><stop offset="0.4561" stop-color="#3383be"/><stop offset="0.4620" stop-color="#3282be"/><stop offset="0.4632" stop-color="#3383be"/><stop offset="0.4702" stop-color="#3989c1"/><stop offset="0.4737" stop-color="#3c8cc3"/><stop offset="0.5193" stop-color="#3c8cc3"/><stop offset="0.5263" stop-color="#3b8bc2"/><stop offset="0.5474" stop-color="#3b8bc2"/><stop offset="0.5544" stop-color="#3989c1"/><stop offset="0.5614" stop-color="#3787c0"/><stop offset="0.5684" stop-color="#3585bf"/><stop offset="0.5731" stop-color="#3484bf"/><stop offset="0.5754" stop-color="#3484bf"/><stop offset="0.5825" stop-color="#3282be"/><stop offset="0.5895" stop-color="#3181bd"/><stop offset="0.5965" stop-color="#3080bd"/><stop offset="0.5988" stop-color="#2f7fbc"/><stop offset="0.6105" stop-color="#2f7fbc"/><stop offset="0.6175" stop-color="#2e7ebc"/><stop offset="0.6246" stop-color="#2d7dbb"/><stop offset="0.6316" stop-color="#2d7dbb"/><stop offset="0.6386" stop-color="#2c7cba"/><stop offset="0.6456" stop-color="#2c7cba"/><stop offset="0.6526" stop-color="#2b7bba"/><stop offset="0.6596" stop-color="#2b7bba"/><stop offset="0.6667" stop-color="#2a7ab9"/><stop offset="0.6702" stop-color="#2a7ab9"/><stop offset="0.6737" stop-color="#2777b8"/><stop offset="0.6807" stop-color="#2373b6"/><stop offset="0.6877" stop-color="#206fb4"/><stop offset="0.6901" stop-color="#1f6eb3"/><stop offset="0.6947" stop-color="#1d6cb1"/><stop offset="0.7018" stop-color="#1b69af"/><stop offset="0.7088" stop-color="#1966ad"/><stop offset="0.7111" stop-color="#1865ac"/><stop offset="0.7158" stop-color="#1663aa"/><stop offset="0.7228" stop-color="#1561a9"/><stop offset="0.7298" stop-color="#135fa7"/><stop offset="0.7368" stop-color="#125da6"/><stop offset="0.7415" stop-color="#115ca5"/><stop offset="0.7439" stop-color="#105ba4"/><stop offset="0.7509" stop-color="#0e59a2"/><stop offset="0.7579" stop-color="#0e58a2"/><stop offset="0.7649" stop-color="#0c56a0"/><stop offset="0.7719" stop-color="#0b559f"/><stop offset="0.7789" stop-color="#09529d"/><stop offset="0.7860" stop-color="#08509b"/><stop offset="0.7930" stop-color="#084e98"/><stop offset="0.7977" stop-color="#084c95"/><stop offset="0.8000" stop-color="#084c95"/><stop offset="0.8070" stop-color="#084990"/><stop offset="0.8140" stop-color="#08478d"/><stop offset="0.8211" stop-color="#08458a"/><stop offset="0.8222" stop-color="#084488"/><stop offset="0.8281" stop-color="#084285"/><stop offset="0.8351" stop-color="#083d7f"/><stop offset="0.8421" stop-color="#083a7a"/><stop offset="0.8491" stop-color="#083776"/><stop offset="0.8526" stop-color="#083573"/><stop offset="0.8561" stop-color="#083573"/><stop offset="0.8632" stop-color="#083674"/><stop offset="0.8842" stop-color="#083674"/><stop offset="0.8912" stop-color="#083776"/><stop offset="0.9123" stop-color="#083776"/><stop offset="0.9193" stop-color="#083877"/><stop offset="0.9228" stop-color="#083877"/><stop offset="0.9263" stop-color="#083a7a"/><stop offset="0.9333" stop-color="#084082"/><stop offset="0.9357" stop-color="#084285"/><stop offset="0.9404" stop-color="#084387"/><stop offset="0.9474" stop-color="#08458a"/><stop offset="0.9544" stop-color="#08488e"/><stop offset="0.9614" stop-color="#084a91"/><stop offset="0.9626" stop-color="#084a91"/><stop offset="0.9684" stop-color="#084d96"/><stop offset="0.9754" stop-color="#08509b"/><stop offset="0.9766" stop-color="#08519c"/><stop offset="0.9825" stop-color="#0a549e"/><stop offset="0.9895" stop-color="#0d57a1"/><stop offset="0.9930" stop-color="#0e58a2"/><stop offset="0.9965" stop-color="#115ca5"/><stop offset="1.0000" stop-color="#135fa7"/></linearGradient>
<linearGradient id="R8" x1="0" y1="0" x2="0" y2="1"><stop offset="0.0000" stop-color="#6aaed6"/><stop offset="0.0140" stop-color="#6aaed6"/><stop offset="0.0211" stop-color="#69add5"/><stop offset="0.0351" stop-color="#69add5"/><stop offset="0.0409" stop-color="#68acd5"/><stop offset="0.0421" stop-color="#66abd4"/><stop offset="0.0491" stop-color="#60a7d2"/><stop offset="0.0526" stop-color="#5ca4d0"/><stop offset="0.0561" stop-color="#5da5d1"/><stop offset="0.0632" stop-color="#5fa6d1"/><stop offset="0.0702" stop-color="#60a7d2"/><stop offset="0.0760" stop-color="#63a8d3"/><stop offset="0.0772" stop-color="#63a8d3"/><stop offset="0.0842" stop-color="#64a9d3"/><stop offset="0.0912" stop-color="#65aad4"/><stop offset="0.0982" stop-color="#66abd4"/><stop offset="0.2047" stop-color="#66abd4"/><stop offset="0.2105" stop-color="#68acd5"/><stop offset="0.2175" stop-color="#68acd5"/><stop offset="0.2246" stop-color="#69add5"/><stop offset="0.2316" stop-color="#69add5"/><stop offset="0.2386" stop-color="#66abd4"/><stop offset="0.2456" stop-color="#64a9d3"/><stop offset="0.2526" stop-color="#63a8d3"/><stop offset="0.2596" stop-color="#60a7d2"/><stop offset="0.2632" stop-color="#5fa6d1"/><stop offset="0.2667" stop-color="#5fa6d1"/><stop offset="0.2737" stop-color="#5ca4d0"/><stop offset="0.2807" stop-color="#5ba3d0"/><stop offset="0.2877" stop-color="#5aa2cf"/><stop offset="0.2947" stop-color="#58a1cf"/><stop offset="0.2982" stop-color="#57a0ce"/><stop offset="0.3018" stop-color="#58a1cf"/><stop offset="0.3088" stop-color="#5ba3d0"/><stop offset="0.3158" stop-color="#5da5d1"/><stop offset="0.3228" stop-color="#60a7d2"/><stop offset="0.3298" stop-color="#63a8d3"/><stop offset="0.3333" stop-color="#64a9d3"/><stop offset="0.3368" stop-color="#65aad4"/><stop offset="0.3439" stop-color="#66abd4"/><stop offset="0.3509" stop-color="#69add5"/><stop offset="0.3567" stop-color="#6aaed6"/><stop offset="0.3579" stop-color="#6caed6"/><stop offset="0.3649" stop-color="#6fb0d7"/><stop offset="0.3719" stop-color="#71b1d7"/><stop offset="0.3789" stop-color="#74b3d8"/><stop offset="0.3860" stop-color="#74b3d8"/><stop offset="0.3930" stop-color="#72b2d8"/><stop offset="0.4070" stop-color="#72b2d8"/><stop offset="0.4140" stop-color="#71b1d7"/><stop offset="0.4211" stop-color="#71b1d7"/><stop offset="0.4281" stop-color="#72b2d8"/><stop offset="0.4491" stop-color="#72b2d8"/><stop offset="0.4561" stop-color="#74b3d8"/><stop offset="0.4842" stop-color="#74b3d8"/><stop offset="0.4912" stop-color="#72b2d8"/><stop offset="0.4982" stop-color="#72b2d8"/><stop offset="0.5053" stop-color="#71b1d7"/><stop offset="0.5193" stop-color="#71b1d7"/><stop offset="0.5263" stop-color="#6fb0d7"/><stop offset="0.5614" stop-color="#6fb0d7"/><stop offset="0.5684" stop-color="#71b1d7"/><stop offset="0.5895" stop-color="#71b1d7"/><stop offset="0.5965" stop-color="#6fb0d7"/><stop offset="0.6035" stop-color="#6dafd7"/><stop offset="0.6105" stop-color="#6caed6"/><stop offset="0.6140" stop-color="#6aaed6"/><stop offset="0.6246" stop-color="#6aaed6"/><stop offset="0.6316" stop-color="#69add5"/><stop offset="0.6386" stop-color="#69add5"/><stop offset="0.6456" stop-color="#68acd5"/><stop offset="0.6526" stop-color="#68acd5"/><stop offset="0.6596" stop-color="#66abd4"/><stop offset="0.6667" stop-color="#65aad4"/><stop offset="0.6749" stop-color="#65aad4"/><stop offset="0.6807" stop-color="#64a9d3"/><stop offset="0.6877" stop-color="#63a8d3"/><stop offset="0.6947" stop-color="#61a7d2"/><stop offset="0.7018" stop-color="#60a7d2"/><stop offset="0.7076" stop-color="#5fa6d1"/><stop offset="0.7088" stop-color="#5fa6d1"/><stop offset="0.7158" stop-color="#5da5d1"/><stop offset="0.7228" stop-color="#5ba3d0"/><stop offset="0.7298" stop-color="#5aa2cf"/><stop offset="0.7368" stop-color="#58a1cf"/><stop offset="0.7439" stop-color="#56a0ce"/><stop offset="0.7509" stop-color="#549fcd"/><stop offset="0.7579" stop-color="#519ccc"/><stop offset="0.7649" stop-color="#4e9acb"/><stop offset="0.7661" stop-color="#4d99ca"/><stop offset="0.7719" stop-color="#4594c7"/><stop offset="0.7789" stop-color="#3d8dc4"/><stop offset="0.7801" stop-color="#3c8cc3"/><stop offset="0.7860" stop-color="#3484bf"/><stop offset="0.7930" stop-color="#2b7bba"/><stop offset="0.7953" stop-color="#2676b8"/><stop offset="0.8000" stop-color="#2373b6"/><stop offset="0.8070" stop-color="#1e6db2"/><stop offset="0.8140" stop-color="#1a68ae"/><stop offset="0.8175" stop-color="#1865ac"/><stop offset="0.8211" stop-color="#1562a9"/><stop offset="0.8281" stop-color="#125ea6"/><stop offset="0.8351" stop-color="#0e59a2"/><stop offset="0.8421" stop-color="#0a549e"/><stop offset="0.8433" stop-color="#0a539e"/><stop offset="0.8491" stop-color="#08509b"/><stop offset="0.8561" stop-color="#084c95"/><stop offset="0.8632" stop-color="#08488e"/><stop offset="0.8702" stop-color="#084488"/><stop offset="0.8737" stop-color="#084285"/><stop offset="0.8772" stop-color="#084285"/><stop offset="0.8842" stop-color="#084184"/><stop offset="0.8982" stop-color="#084184"/><stop offset="0.9053" stop-color="#084082"/><stop offset="0.9123" stop-color="#084082"/><stop offset="0.9193" stop-color="#083e81"/><stop offset="0.9263" stop-color="#083e81"/><stop offset="0.9333" stop-color="#083d7f"/><stop offset="0.9404" stop-color="#084d96"/><stop offset="0.9415" stop-color="#08509b"/><stop offset="0.9474" stop-color="#0c56a0"/><stop offset="0.9532" stop-color="#115ca5"/><stop offset="0.9544" stop-color="#115ca5"/><stop offset="0.9614" stop-color="#1562a9"/><stop offset="0.9649" stop-color="#1865ac"/><stop offset="0.9684" stop-color="#1966ad"/><stop offset="0.9754" stop-color="#1b69af"/><stop offset="0.9825" stop-color="#1d6cb1"/><stop offset="0.9860" stop-color="#1e6db2"/><stop offset="0.9895" stop-color="#206fb4"/><stop offset="0.9965" stop-color="#2474b7"/><stop offset="1.0000" stop-color="#2676b8"/></linearGradient>
<linearGradient id="R9" x1="0" y1="0" x2="0" y2="1"><stop offset="0.0000" stop-color="#d6e5f4"/><stop offset="0.0772" stop-color="#d6e5f4"/><stop offset="0.0842" stop-color="#d5e5f4"/><stop offset="0.0994" stop-color="#d5e5f4"/><stop offset="0.1053" stop-color="#d4e4f4"/><stop offset="0.1123" stop-color="#d3e3f3"/><stop offset="0.1193" stop-color="#d1e2f3"/><stop offset="0.1228" stop-color="#d0e2f2"/><stop offset="0.1263" stop-color="#d0e1f2"/><stop offset="0.1333" stop-color="#cfe1f2"/><stop offset="0.1404" stop-color="#cde0f1"/><stop offset="0.1474" stop-color="#ccdff1"/><stop offset="0.1520" stop-color="#cadef0"/><stop offset="0.1544" stop-color="#cadef0"/><stop offset="0.1614" stop-color="#cbdef1"/><stop offset="0.1871" stop-color="#cbdef1"/><stop offset="0.1895" stop-color="#ccdff1"/><stop offset="0.1965" stop-color="#cde0f1"/><stop offset="0.2035" stop-color="#cfe1f2"/><stop offset="0.2105" stop-color="#d0e1f2"/><stop offset="0.2175" stop-color="#d0e2f2"/><stop offset="0.2246" stop-color="#d1e2f3"/><stop offset="0.2316" stop-color="#d2e3f3"/><stop offset="0.2386" stop-color="#d2e3f3"/><stop offset="0.2456" stop-color="#d3e3f3"/><stop offset="0.2515" stop-color="#d3e4f3"/><stop offset="0.2877" stop-color="#d3e4f3"/><stop offset="0.2947" stop-color="#d4e4f4"/><stop offset="0.3579" stop-color="#d4e4f4"/><stop offset="0.3649" stop-color="#d5e5f4"/><stop offset="0.4152" stop-color="#d5e5f4"/><stop offset="0.4211" stop-color="#d6e5f4"/><stop offset="0.4351" stop-color="#d6e5f4"/><stop offset="0.4421" stop-color="#d6e6f4"/><stop offset="0.4561" stop-color="#d6e6f4"/><stop offset="0.4632" stop-color="#d7e6f5"/><stop offset="0.4772" stop-color="#d7e6f5"/><stop offset="0.4842" stop-color="#d8e7f5"/><stop offset="0.5123" stop-color="#d8e7f5"/><stop offset="0.5193" stop-color="#d7e6f5"/><stop offset="0.6035" stop-color="#d7e6f5"/><stop offset="0.6105" stop-color="#d6e6f4"/><stop offset="0.6316" stop-color="#d6e6f4"/><stop offset="0.6386" stop-color="#d6e5f4"/><stop offset="0.6526" stop-color="#d6e5f4"/><stop offset="0.6596" stop-color="#d5e5f4"/><stop offset="0.6807" stop-color="#d5e5f4"/><stop offset="0.6877" stop-color="#d4e4f4"/><stop offset="0.6959" stop-color="#d4e4f4"/><stop offset="0.7018" stop-color="#d3e3f3"/><stop offset="0.7088" stop-color="#d0e2f2"/><stop offset="0.7135" stop-color="#cfe1f2"/><stop offset="0.7158" stop-color="#cee0f2"/><stop offset="0.7228" stop-color="#cddff1"/><stop offset="0.7298" stop-color="#cbdef1"/><stop offset="0.7368" stop-color="#caddf0"/><stop offset="0.7439" stop-color="#c8dcf0"/><stop offset="0.7462" stop-color="#c8dcf0"/><stop offset="0.7509" stop-color="#c6dbef"/><stop offset="0.7579" stop-color="#bfd8ed"/><stop offset="0.7649" stop-color="#b9d6ea"/><stop offset="0.7661" stop-color="#b8d5ea"/><stop offset="0.7719" stop-color="#b2d2e8"/><stop offset="0.7778" stop-color="#add0e6"/><stop offset="0.7789" stop-color="#abd0e6"/><stop offset="0.7860" stop-color="#abd0e6"/><stop offset="0.7930" stop-color="#aacfe5"/><stop offset="0.8000" stop-color="#a9cfe5"/><stop offset="0.8070" stop-color="#a8cee4"/><stop offset="0.8140" stop-color="#a6cee4"/><stop offset="0.8211" stop-color="#a5cde3"/><stop offset="0.8269" stop-color="#a5cde3"/><stop offset="0.8281" stop-color="#a4cce3"/><stop offset="0.8351" stop-color="#a0cbe2"/><stop offset="0.8421" stop-color="#9cc9e1"/><stop offset="0.8480" stop-color="#97c6df"/><stop offset="0.8491" stop-color="#97c6df"/><stop offset="0.8561" stop-color="#94c4df"/><stop offset="0.8632" stop-color="#92c4de"/><stop offset="0.8702" stop-color="#8fc2de"/><stop offset="0.8713" stop-color="#8fc2de"/><stop offset="0.8772" stop-color="#8dc1dd"/><stop offset="0.8982" stop-color="#8dc1dd"/><stop offset="0.9006" stop-color="#8cc0dd"/><stop offset="0.9053" stop-color="#8fc2de"/><stop offset="0.9123" stop-color="#94c4df"/><stop offset="0.9181" stop-color="#97c6df"/><stop offset="0.9193" stop-color="#99c7e0"/><stop offset="0.9263" stop-color="#9fcae1"/><stop offset="0.9333" stop-color="#a5cde3"/><stop offset="0.9357" stop-color="#a6cee4"/><stop offset="0.9404" stop-color="#a9cfe5"/><stop offset="0.9474" stop-color="#add0e6"/><stop offset="0.9544" stop-color="#afd1e7"/><stop offset="0.9591" stop-color="#b2d2e8"/><stop offset="0.9614" stop-color="#b3d3e8"/><stop offset="0.9684" stop-color="#b7d4ea"/><stop offset="0.9754" stop-color="#bad6eb"/><stop offset="0.9825" stop-color="#bed8ec"/><stop offset="0.9895" stop-color="#c2d9ee"/><stop offset="0.9965" stop-color="#c6dbef"/><stop offset="1.0000" stop-color="#c7dcef"/></linearGradient>
<linearGradient id="R10" x1="0" y1="0" x2="0" y2="1"><stop offset="0.0000" stop-color="#f4f9fe"/><stop offset="0.3789" stop-color="#f4f9fe"/><stop offset="0.3860" stop-color="#f3f8fe"/><stop offset="0.6807" stop-color="#f3f8fe"/><stop offset="0.6877" stop-color="#f2f8fd"/><stop offset="0.7368" stop-color="#f2f8fd"/><stop offset="0.7439" stop-color="#f2f7fd"/><stop offset="0.7860" stop-color="#f2f7fd"/><stop offset="0.7930" stop-color="#f1f7fd"/><stop offset="0.8772" stop-color="#f1f7fd"/><stop offset="0.8842" stop-color="#f0f6fd"/><stop offset="0.9474" stop-color="#f0f6fd"/><stop offset="0.9544" stop-color="#f1f7fd"/><stop offset="0.9684" stop-color="#f1f7fd"/><stop offset="0.9754" stop-color="#f2f7fd"/><stop offset="0.9965" stop-color="#f2f7fd"/><stop offset="1.0000" stop-color="#f2f8fd"/></linearGradient>
<linearGradient id="cbL" x1="0" y1="0" x2="0" y2="1"><stop offset="0.0000" stop-color="#08306b"/><stop offset="0.0227" stop-color="#083573"/><stop offset="0.0455" stop-color="#083b7c"/><stop offset="0.0682" stop-color="#084285"/><stop offset="0.0909" stop-color="#08488e"/><stop offset="0.1136" stop-color="#084e98"/><stop offset="0.1364" stop-color="#0a539e"/><stop offset="0.1591" stop-color="#0e59a2"/><stop offset="0.1818" stop-color="#135fa7"/><stop offset="0.2045" stop-color="#1865ac"/><stop offset="0.2273" stop-color="#1c6bb0"/><stop offset="0.2500" stop-color="#2070b4"/><stop offset="0.2727" stop-color="#2676b8"/><stop offset="0.2955" stop-color="#2d7dbb"/><stop offset="0.3182" stop-color="#3383be"/><stop offset="0.3409" stop-color="#3989c1"/><stop offset="0.3636" stop-color="#3f8fc5"/><stop offset="0.3864" stop-color="#4594c7"/><stop offset="0.4091" stop-color="#4d99ca"/><stop offset="0.4318" stop-color="#549fcd"/><stop offset="0.4545" stop-color="#5ca4d0"/><stop offset="0.4773" stop-color="#64a9d3"/><stop offset="0.5000" stop-color="#6aaed6"/><stop offset="0.5227" stop-color="#74b3d8"/><stop offset="0.5455" stop-color="#7db8da"/><stop offset="0.5682" stop-color="#87bddc"/><stop offset="0.5909" stop-color="#91c3de"/><stop offset="0.6136" stop-color="#9ac8e0"/><stop offset="0.6364" stop-color="#a1cbe2"/><stop offset="0.6591" stop-color="#a9cfe5"/><stop offset="0.6818" stop-color="#b0d2e7"/><stop offset="0.7045" stop-color="#b8d5ea"/><stop offset="0.7273" stop-color="#bfd8ed"/><stop offset="0.7500" stop-color="#c6dbef"/><stop offset="0.7727" stop-color="#cadef0"/><stop offset="0.7955" stop-color="#cfe1f2"/><stop offset="0.8182" stop-color="#d3e4f3"/><stop offset="0.8409" stop-color="#d8e7f5"/><stop offset="0.8636" stop-color="#dceaf6"/><stop offset="0.8864" stop-color="#e0ecf8"/><stop offset="0.9091" stop-color="#e5eff9"/><stop offset="0.9318" stop-color="#eaf2fb"/><stop offset="0.9545" stop-color="#eef5fc"/><stop offset="0.9773" stop-color="#f3f8fe"/><stop offset="1.0000" stop-color="#f7fbff"/></linearGradient>
<linearGradient id="cbR" x1="0" y1="0" x2="0" y2="1"><stop offset="0.0000" stop-color="#08306b"/><stop offset="0.0227" stop-color="#083573"/><stop offset="0.0455" stop-color="#083b7c"/><stop offset="0.0682" stop-color="#084285"/><stop offset="0.0909" stop-color="#08488e"/><stop offset="0.1136" stop-color="#084e98"/><stop offset="0.1364" stop-color="#0a539e"/><stop offset="0.1591" stop-color="#0e59a2"/><stop offset="0.1818" stop-color="#135fa7"/><stop offset="0.2045" stop-color="#1865ac"/><stop offset="0.2273" stop-color="#1c6bb0"/><stop offset="0.2500" stop-color="#2070b4"/><stop offset="0.2727" stop-color="#2676b8"/><stop offset="0.2955" stop-color="#2d7dbb"/><stop offset="0.3182" stop-color="#3383be"/><stop offset="0.3409" stop-color="#3989c1"/><stop offset="0.3636" stop-color="#3f8fc5"/><stop offset="0.3864" stop-color="#4594c7"/><stop offset="0.4091" stop-color="#4d99ca"/><stop offset="0.4318" stop-color="#549fcd"/><stop offset="0.4545" stop-color="#5ca4d0"/><stop offset="0.4773" stop-color="#64a9d3"/><stop offset="0.5000" stop-color="#6aaed6"/><stop offset="0.5227" stop-color="#74b3d8"/><stop offset="0.5455" stop-color="#7db8da"/><stop offset="0.5682" stop-color="#87bddc"/><stop offset="0.5909" stop-color="#91c3de"/><stop offset="0.6136" stop-color="#9ac8e0"/><stop offset="0.6364" stop-color="#a1cbe2"/><stop offset="0.6591" stop-color="#a9cfe5"/><stop offset="0.6818" stop-color="#b0d2e7"/><stop offset="0.7045" stop-color="#b8d5ea"/><stop offset="0.7273" stop-color="#bfd8ed"/><stop offset="0.7500" stop-color="#c6dbef"/><stop offset="0.7727" stop-color="#cadef0"/><stop offset="0.7955" stop-color="#cfe1f2"/><stop offset="0.8182" stop-color="#d3e4f3"/><stop offset="0.8409" stop-color="#d8e7f5"/><stop offset="0.8636" stop-color="#dceaf6"/><stop offset="0.8864" stop-color="#e0ecf8"/><stop offset="0.9091" stop-color="#e5eff9"/><stop offset="0.9318" stop-color="#eaf2fb"/><stop offset="0.9545" stop-color="#eef5fc"/><stop offset="0.9773" stop-color="#f3f8fe"/><stop offset="1.0000" stop-color="#f7fbff"/></linearGradient></defs>
<rect x="0" y="0" width="2000" height="1000" fill="#fff"/>
<g shape-rendering="crispEdges">
<rect x="94" y="45" width="60" height="855" fill="#f5fafe"/>
<rect x="154" y="45" width="60" height="855" fill="#f5fafe"/>
<rect x="214" y="45" width="60" height="855" fill="#f5fafe"/>
<rect x="274" y="45" width="60" height="855" fill="url(#L4)"/>
<rect x="334" y="45" width="60" height="855" fill="url(#L5)"/>
<rect x="394" y="45" width="60" height="855" fill="url(#L6)"/>
<rect x="454" y="45" width="60" height="855" fill="url(#L7)"/>
<rect x="514" y="45" width="60" height="855" fill="url(#L8)"/>
<rect x="574" y="45" width="60" height="855" fill="url(#L9)"/>
<rect x="634" y="45" width="60" height="855" fill="url(#L10)"/>
<rect x="694" y="45" width="60" height="855" fill="#f5fafe"/>
<rect x="754" y="45" width="60" height="855" fill="#f5fafe"/>
<rect x="1063" y="45" width="60" height="855" fill="#f5fafe"/>
<rect x="1123" y="45" width="60" height="855" fill="#f5fafe"/>
<rect x="1183" y="45" width="60" height="855" fill="#f5fafe"/>
<rect x="1243" y="45" width="60" height="855" fill="url(#R4)"/>
<rect x="1303" y="45" width="60" height="855" fill="url(#R5)"/>
<rect x="1363" y="45" width="60" height="855" fill="url(#R6)"/>
<rect x="1423" y="45" width="60" height="855" fill="url(#R7)"/>
<rect x="1483" y="45" width="60" height="855" fill="url(#R8)"/>
<rect x="1543" y="45" width="61" height="855" fill="url(#R9)"/>
<rect x="1604" y="45" width="60" height="855" fill="url(#R10)"/>
<rect x="1664" y="45" width="60" height="855" fill="#f5fafe"/>
<rect x="1724" y="45" width="60" height="855" fill="#f5fafe"/>
</g>
<rect x="93" y="18" width="722" height="912" fill="none" stroke="#000" stroke-width="2"/>
<rect x="1063" y="18" width="721" height="912" fill="none" stroke="#000" stroke-width="2"/>
<line x1="85" y1="929.00" x2="93" y2="929.00" stroke="#000" stroke-width="2"/>
<line x1="1055" y1="929.00" x2="1063" y2="929.00" stroke="#000" stroke-width="2"/>
<line x1="85" y1="777.00" x2="93" y2="777.00" stroke="#000" stroke-width="2"/>
<line x1="1055" y1="777.00" x2="1063" y2="777.00" stroke="#000" stroke-width="2"/>
<line x1="85" y1="625.00" x2="93" y2="625.00" stroke="#000" stroke-width="2"/>
<line x1="1055" y1="625.00" x2="1063" y2="625.00" stroke="#000" stroke-width="2"/>
<line x1="85" y1="473.00" x2="93" y2="473.00" stroke="#000" stroke-width="2"/>
<line x1="1055" y1="473.00" x2="1063" y2="473.00" stroke="#000" stroke-width="2"/>
<line x1="85" y1="321.00" x2="93" y2="321.00" stroke="#000" stroke-width="2"/>
<line x1="1055" y1="321.00" x2="1063" y2="321.00" stroke="#000" stroke-width="2"/>
<line x1="85" y1="169.00" x2="93" y2="169.00" stroke="#000" stroke-width="2"/>
<line x1="1055" y1="169.00" x2="1063" y2="169.00" stroke="#000" stroke-width="2"/>
<line x1="184.00" y1="930" x2="184.00" y2="937.5" stroke="#000" stroke-width="2"/>
<line x1="1153.20" y1="930" x2="1153.20" y2="937.5" stroke="#000" stroke-width="2"/>
<line x1="304.00" y1="930" x2="304.00" y2="937.5" stroke="#000" stroke-width="2"/>
<line x1="1273.30" y1="930" x2="1273.30" y2="937.5" stroke="#000" stroke-width="2"/>
<line x1="424.00" y1="930" x2="424.00" y2="937.5" stroke="#000" stroke-width="2"/>
<line x1="1393.40" y1="930" x2="1393.40" y2="937.5" stroke="#000" stroke-width="2"/>
<line x1="544.00" y1="930" x2="544.00" y2="937.5" stroke="#000" stroke-width="2"/>
<line x1="1513.50" y1="930" x2="1513.50" y2="937.5" stroke="#000" stroke-width="2"/>
<line x1="664.00" y1="930" x2="664.00" y2="937.5" stroke="#000" stroke-width="2"/>
<line x1="1633.60" y1="930" x2="1633.60" y2="937.5" stroke="#000" stroke-width="2"/>
<line x1="784.00" y1="930" x2="784.00" y2="937.5" stroke="#000" stroke-width="2"/>
<line x1="1753.70" y1="930" x2="1753.70" y2="937.5" stroke="#000" stroke-width="2"/>
<rect x="860" y="61" width="45" height="869" fill="url(#cbL)"/>
<path d="M860 61.5 L882.6 18 L905 61.5 Z" fill="#08306b"/>
<path d="M860 930 L860 61 L882.6 18 L905 61 L905 930 Z" fill="none" stroke="#000" stroke-width="2" stroke-linejoin="miter"/>
<line x1="906" y1="930.00" x2="913" y2="930.00" stroke="#000" stroke-width="2"/>
<line x1="906" y1="831.25" x2="913" y2="831.25" stroke="#000" stroke-width="2"/>
<line x1="906" y1="732.50" x2="913" y2="732.50" stroke="#000" stroke-width="2"/>
<line x1="906" y1="633.75" x2="913" y2="633.75" stroke="#000" stroke-width="2"/>
<line x1="906" y1="535.00" x2="913" y2="535.00" stroke="#000" stroke-width="2"/>
<line x1="906" y1="436.25" x2="913" y2="436.25" stroke="#000" stroke-width="2"/>
<line x1="906" y1="337.50" x2="913" y2="337.50" stroke="#000" stroke-width="2"/>
<line x1="906" y1="238.75" x2="913" y2="238.75" stroke="#000" stroke-width="2"/>
<line x1="906" y1="140.00" x2="913" y2="140.00" stroke="#000" stroke-width="2"/>
<rect x="1829" y="18" width="46" height="912" fill="url(#cbR)"/>
<rect x="1829" y="18" width="46" height="912" fill="none" stroke="#000" stroke-width="2"/>
<line x1="1876" y1="929.00" x2="1883" y2="929.00" stroke="#000" stroke-width="2"/>
<line x1="1876" y1="825.50" x2="1883" y2="825.50" stroke="#000" stroke-width="2"/>
<line x1="1876" y1="722.00" x2="1883" y2="722.00" stroke="#000" stroke-width="2"/>
<line x1="1876" y1="618.50" x2="1883" y2="618.50" stroke="#000" stroke-width="2"/>
<line x1="1876" y1="515.00" x2="1883" y2="515.00" stroke="#000" stroke-width="2"/>
<line x1="1876" y1="411.50" x2="1883" y2="411.50" stroke="#000" stroke-width="2"/>
<line x1="1876" y1="308.00" x2="1883" y2="308.00" stroke="#000" stroke-width="2"/>
<line x1="1876" y1="204.50" x2="1883" y2="204.50" stroke="#000" stroke-width="2"/>
<line x1="1876" y1="101.00" x2="1883" y2="101.00" stroke="#000" stroke-width="2"/>
<g class="t"><text x="41.79" y="935.26" font-size="16.00" textLength="37.63" lengthAdjust="spacingAndGlyphs">2000</text>
<text x="41.79" y="783.26" font-size="16.00" textLength="37.63" lengthAdjust="spacingAndGlyphs">2050</text>
<text x="41.79" y="631.26" font-size="16.00" textLength="37.63" lengthAdjust="spacingAndGlyphs">2100</text>
<text x="41.79" y="479.26" font-size="16.00" textLength="37.63" lengthAdjust="spacingAndGlyphs">2150</text>
<text x="41.79" y="327.26" font-size="16.00" textLength="37.63" lengthAdjust="spacingAndGlyphs">2200</text>
<text x="41.79" y="175.26" font-size="16.00" textLength="37.63" lengthAdjust="spacingAndGlyphs">2250</text>
<text x="179.77" y="954.60" font-size="16.00" textLength="8.48" lengthAdjust="spacingAndGlyphs">2</text>
<text x="1148.97" y="954.60" font-size="16.00" textLength="8.48" lengthAdjust="spacingAndGlyphs">2</text>
<text x="299.67" y="954.60" font-size="16.00" textLength="8.76" lengthAdjust="spacingAndGlyphs">4</text>
<text x="1268.97" y="954.60" font-size="16.00" textLength="8.76" lengthAdjust="spacingAndGlyphs">4</text>
<text x="419.42" y="954.60" font-size="16.00" textLength="9.06" lengthAdjust="spacingAndGlyphs">6</text>
<text x="1388.82" y="954.60" font-size="16.00" textLength="9.06" lengthAdjust="spacingAndGlyphs">6</text>
<text x="539.57" y="954.60" font-size="16.00" textLength="8.88" lengthAdjust="spacingAndGlyphs">8</text>
<text x="1509.07" y="954.60" font-size="16.00" textLength="8.88" lengthAdjust="spacingAndGlyphs">8</text>
<text x="654.53" y="954.60" font-size="16.00" textLength="18.36" lengthAdjust="spacingAndGlyphs">10</text>
<text x="1624.13" y="954.60" font-size="16.00" textLength="18.36" lengthAdjust="spacingAndGlyphs">10</text>
<text x="774.82" y="954.60" font-size="16.00" textLength="18.00" lengthAdjust="spacingAndGlyphs">12</text>
<text x="1744.52" y="954.60" font-size="16.00" textLength="18.00" lengthAdjust="spacingAndGlyphs">12</text>
<text x="428.40" y="978.00" font-size="17.50" textLength="52.11" lengthAdjust="spacingAndGlyphs">Month</text>
<text x="1397.80" y="978.00" font-size="17.50" textLength="52.11" lengthAdjust="spacingAndGlyphs">Month</text>
<text x="30.60" y="492.11" font-size="17.50" textLength="34.60" lengthAdjust="spacingAndGlyphs" transform="rotate(-90 30.60 492.11)">Year</text>
<text x="1043.60" y="492.11" font-size="17.50" textLength="34.60" lengthAdjust="spacingAndGlyphs" transform="rotate(-90 1043.60 492.11)">Year</text>
<text x="919.17" y="936.26" font-size="16.00" textLength="8.82" lengthAdjust="spacingAndGlyphs">0</text>
<text x="918.95" y="837.51" font-size="16.00" textLength="37.63" lengthAdjust="spacingAndGlyphs">2500</text>
<text x="919.13" y="738.76" font-size="16.00" textLength="37.38" lengthAdjust="spacingAndGlyphs">5000</text>
<text x="918.91" y="640.01" font-size="16.00" textLength="37.52" lengthAdjust="spacingAndGlyphs">7500</text>
<text x="918.53" y="541.26" font-size="16.00" textLength="46.99" lengthAdjust="spacingAndGlyphs">10000</text>
<text x="918.53" y="442.51" font-size="16.00" textLength="46.99" lengthAdjust="spacingAndGlyphs">12500</text>
<text x="918.53" y="343.76" font-size="16.00" textLength="46.99" lengthAdjust="spacingAndGlyphs">15000</text>
<text x="918.53" y="245.01" font-size="16.00" textLength="46.99" lengthAdjust="spacingAndGlyphs">17500</text>
<text x="918.95" y="146.26" font-size="16.00" textLength="47.14" lengthAdjust="spacingAndGlyphs">20000</text>
<text x="984.80" y="659.36" font-size="17.50" textLength="325.46" lengthAdjust="spacingAndGlyphs" transform="rotate(-90 984.80 659.36)">Runoff from glacierized areas (MT yr-1)</text>
<text x="1888.17" y="935.26" font-size="16.00" textLength="8.82" lengthAdjust="spacingAndGlyphs">0</text>
<text x="1887.95" y="831.76" font-size="16.00" textLength="37.63" lengthAdjust="spacingAndGlyphs">2500</text>
<text x="1888.13" y="728.26" font-size="16.00" textLength="37.38" lengthAdjust="spacingAndGlyphs">5000</text>
<text x="1887.91" y="624.76" font-size="16.00" textLength="37.52" lengthAdjust="spacingAndGlyphs">7500</text>
<text x="1887.53" y="521.26" font-size="16.00" textLength="46.99" lengthAdjust="spacingAndGlyphs">10000</text>
<text x="1887.53" y="417.76" font-size="16.00" textLength="46.99" lengthAdjust="spacingAndGlyphs">12500</text>
<text x="1887.53" y="314.26" font-size="16.00" textLength="46.99" lengthAdjust="spacingAndGlyphs">15000</text>
<text x="1887.53" y="210.76" font-size="16.00" textLength="46.99" lengthAdjust="spacingAndGlyphs">17500</text>
<text x="1887.95" y="107.26" font-size="16.00" textLength="47.14" lengthAdjust="spacingAndGlyphs">20000</text>
<text x="1955.00" y="637.81" font-size="17.50" textLength="325.46" lengthAdjust="spacingAndGlyphs" transform="rotate(-90 1955.00 637.81)">Runoff from glacierized areas (MT yr-1)</text></g>
</svg>
</body></html>
